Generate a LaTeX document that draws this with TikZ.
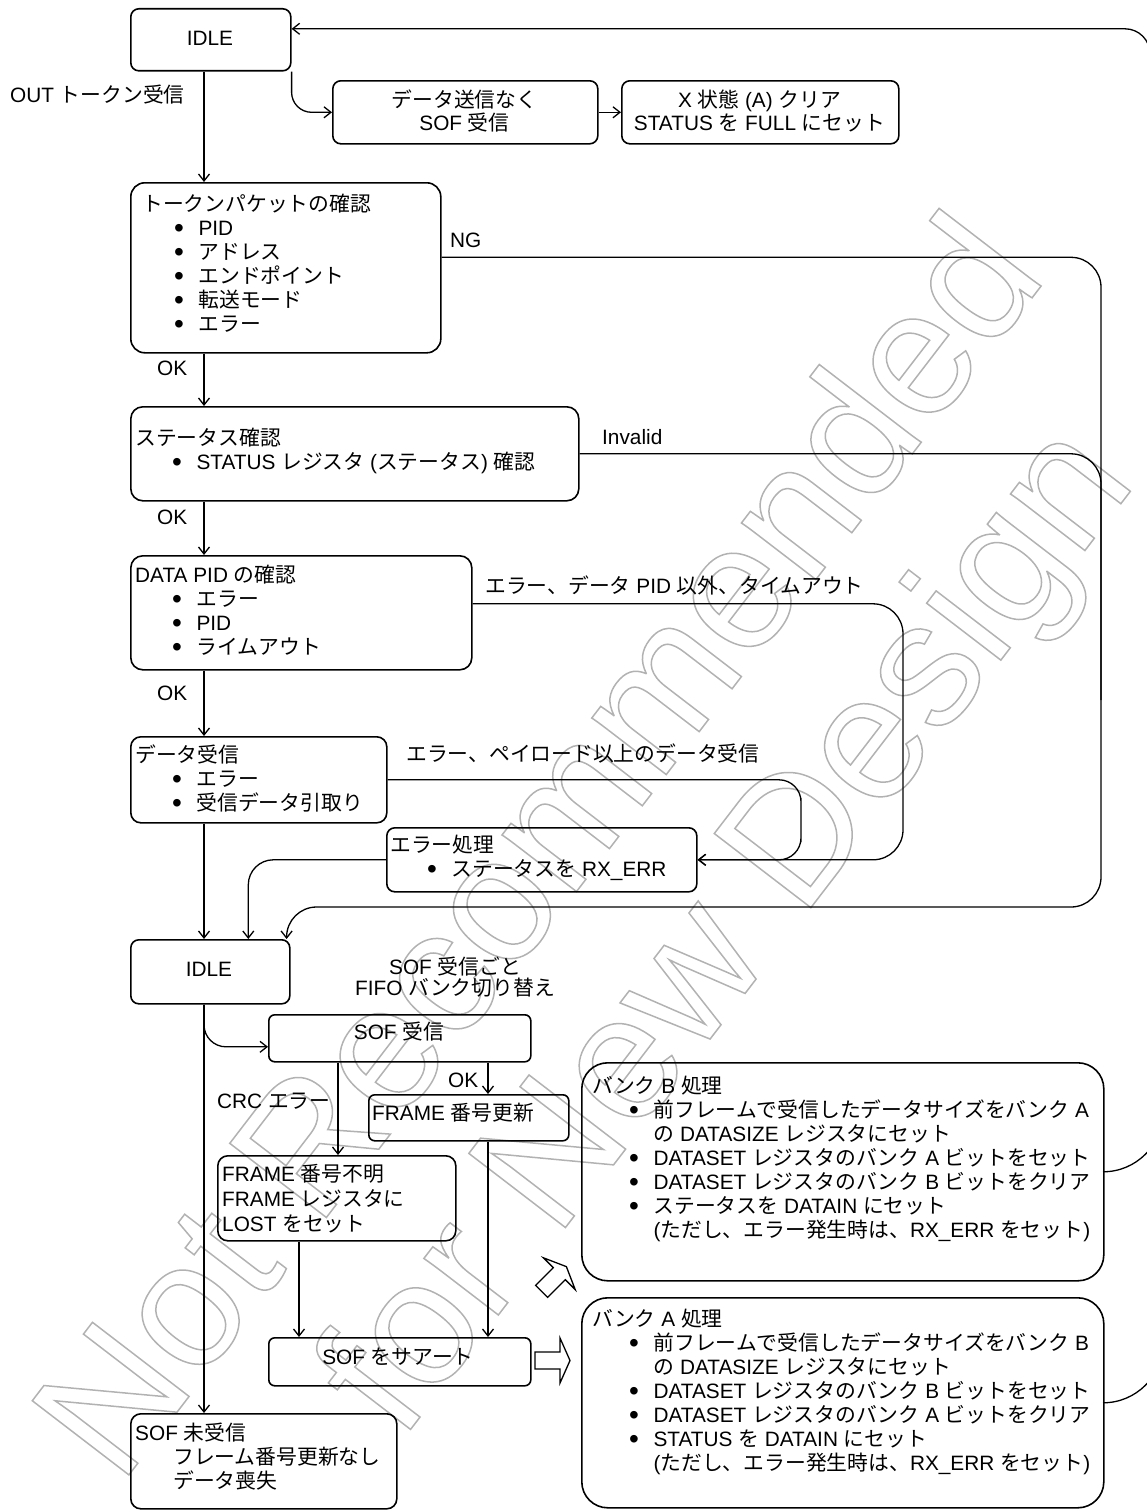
\documentclass[tikz,border=0pt]{standalone}
\usepackage{fontspec}
\setmainfont{Liberation Sans}
\newfontfamily\jpfont{Noto Sans CJK JP}
\usetikzlibrary{arrows.meta}
\definecolor{wmGray}{gray}{0.7}

% Japanese characters switch to the CJK family automatically
\XeTeXinterchartokenstate=1
\newXeTeXintercharclass\jpcls
\newcount\jpc
\jpc="3000 \loop\XeTeXcharclass\jpc=\jpcls \advance\jpc by 1 \ifnum\jpc<"3100 \repeat
\jpc="4E00 \loop\XeTeXcharclass\jpc=\jpcls \advance\jpc by 1 \ifnum\jpc<"A000 \repeat
\jpc="FF00 \loop\XeTeXcharclass\jpc=\jpcls \advance\jpc by 1 \ifnum\jpc<"FFF0 \repeat
\XeTeXinterchartoks 0 \jpcls = {\begingroup\jpfont}
\XeTeXinterchartoks 4095 \jpcls = {\begingroup\jpfont}
\XeTeXinterchartoks \jpcls 0 = {\endgroup}
\XeTeXinterchartoks \jpcls 4095 = {\endgroup}

\newcommand\diagfont{\fontsize{20.8}{24}\selectfont}
\newlength\bulind \setlength\bulind{38pt}
\newcommand\llines[2][24pt]{\vtop{\baselineskip=#1\relax\let\\\cr\halign{##\hfil\cr#2\crcr}}}
\newcommand\clines[2][24pt]{\vtop{\baselineskip=#1\relax\let\\\cr\halign{\hfil##\hfil\cr#2\crcr}}}
\newcommand\bigdot{\makebox[23.3pt][l]{\hspace{-1.2pt}\raisebox{-2.2pt}{\fontsize{28}{24}\selectfont\textbullet}}}
\newcommand\bitem[1]{\hspace*{\bulind}\bigdot#1}
\newcommand\contline[1]{\hspace*{\bulind}\hspace*{23.3pt}#1}
\newcommand\subline[1]{\hspace*{\bulind}#1}
\newcommand\wmark[1]{\special{pdf:literal direct 1 Tr 1.5 w}#1\special{pdf:literal direct 0 Tr}}

\begin{document}
\begin{tikzpicture}[x=1pt,y=-1pt,font=\diagfont,
    box/.style={draw,line width=1.6pt,rounded corners=#1,anchor=north west,inner sep=0pt},
    box/.default=8pt,
    txt/.style={anchor=base west,inner sep=0pt},
    ctr/.style={anchor=base,inner sep=0pt},
    flow/.style={line width=1.3pt,-{Straight Barb[length=7pt,width=11pt]}},
    link/.style={line width=1.3pt},
    wm/.style={rotate=52.5,text=wmGray,font=\fontsize{177}{177}\selectfont},
    fatarrow/.pic={\draw[line width=1.3pt] (-17.5,-8.5) -- (7.5,-8.5) -- (7.5,-22.5) -- (17.5,0)
        -- (7.5,22.5) -- (7.5,8.5) -- (-17.5,8.5) -- cycle;}]
\useasboundingbox (0,0) rectangle (1147,1512);

% watermark
\node[wm] (wmA) at (534,843) {\wmark{Not Recommended}};
\node[wm] (wmB) at (733,934) {\wmark{for New Design}};

% boxes
\node[box,minimum width=160,minimum height=62] (idleA) at (130,8) {};
\node[box,minimum width=265,minimum height=63] (nosof) at (332,80) {};
\node[box,minimum width=277,minimum height=63] (xclr) at (621,80) {};
\node[box=14pt,minimum width=310,minimum height=170] (tok) at (130,182) {};
\node[box=12pt,minimum width=448,minimum height=94] (stat) at (130,406) {};
\node[box=12pt,minimum width=341,minimum height=114] (pid) at (130,555) {};
\node[box=10pt,minimum width=256,minimum height=86] (rcv) at (130,736) {};
\node[box,minimum width=310,minimum height=64] (err) at (386,827) {};
\node[box,minimum width=159,minimum height=64] (idleB) at (130,939) {};
\node[box=6pt,minimum width=262,minimum height=47] (sofrx) at (268,1014) {};
\node[box=6pt,minimum width=200,minimum height=46] (frup) at (368,1094) {};
\node[box=10pt,minimum width=238,minimum height=85] (frlost) at (217,1155) {};
\node[box=6pt,minimum width=262,minimum height=48] (assert) at (268,1337) {};
\node[box=10pt,minimum width=266,minimum height=95] (nosofB) at (130,1413) {};
\node[box=26pt,minimum width=522,minimum height=218] (bankB) at (581,1062) {};
\node[box=26pt,minimum width=522,minimum height=210] (bankA) at (581,1297) {};

% texts
\node[ctr] (idleAt) at (210,46) {IDLE};
\node[ctr] (nosoft) at (464.5,107) {\clines[23pt]{データ送信なく\\SOF 受信}};
\node[ctr] (xclrt) at (759.5,107) {\clines[23pt]{X 状態 (A) クリア\\STATUS を FULL にセット}};
\node[txt] (tokt) at (142,211) {\setlength\bulind{33pt}\llines{トークンパケットの確認\\
    \bitem{PID}\\\bitem{アドレス}\\\bitem{エンドポイント}\\\bitem{転送モード}\\\bitem{エラー}}};
\node[txt] (statt) at (135,445) {\llines{ステータス確認\\\bitem{STATUS レジスタ (ステータス) 確認}}};
\node[txt] (pidt) at (135,582) {\llines{DATA PID の確認\\\bitem{エラー}\\\bitem{PID}\\\bitem{ライムアウト}}};
\node[txt] (rcvt) at (135,762) {\llines{データ受信\\\bitem{エラー}\\\bitem{受信データ引取り}}};
\node[txt] (errt) at (390,852) {\llines{エラー処理\\\bitem{ステータスを RX\_ERR}}};
\node[ctr] (idleBt) at (209,976) {IDLE};
\node[ctr] (sofrxt) at (399,1039) {SOF 受信};
\node[txt] (frupt) at (372,1120) {FRAME 番号更新};
\node[txt] (frlostt) at (222,1181) {\llines[25pt]{FRAME 番号不明\\FRAME レジスタに\\LOST をセット}};
\node[ctr] (assertt) at (398,1364) {SOF をサアート};
\node[txt] (nosofBt) at (135,1440) {\llines{SOF 未受信\\\subline{フレーム番号更新なし}\\\subline{データ喪失}}};
\node[txt] (bankBt) at (592,1093) {\llines{バンク B 処理\\
    \bitem{前フレームで受信したデータサイズをバンク A}\\
    \contline{の DATASIZE レジスタにセット}\\
    \bitem{DATASET レジスタのバンク A ビットをセット}\\
    \bitem{DATASET レジスタのバンク B ビットをクリア}\\
    \bitem{ステータスを DATAIN にセット}\\
    \contline{(ただし、エラー発生時は、RX\_ERR をセット)}}};
\node[txt] (bankAt) at (592,1326) {\llines{バンク A 処理\\
    \bitem{前フレームで受信したデータサイズをバンク B}\\
    \contline{の DATASIZE レジスタにセット}\\
    \bitem{DATASET レジスタのバンク B ビットをセット}\\
    \bitem{DATASET レジスタのバンク A ビットをクリア}\\
    \bitem{STATUS を DATAIN にセット}\\
    \contline{(ただし、エラー発生時は、RX\_ERR をセット)}}};

% labels
\node[txt] (outlbl) at (10,102) {OUT トークン受信};
\node[txt] (nglbl) at (450,247) {NG};
\node[txt] (ok1) at (157,375.5) {OK};
\node[txt] (invlbl) at (602,444.5) {Invalid};
\node[txt] (ok2) at (157,524.5) {OK};
\node[txt] (pidlbl) at (485,593) {エラー、データ PID 以外、タイムアウト};
\node[txt] (ok3) at (157,700.5) {OK};
\node[txt] (rcvlbl) at (406,761) {エラー、ペイロード以上のデータ受信};
\node[ctr] (banklbl) at (455,974) {\clines[21.5pt]{SOF 受信ごと\\FIFO バンク切り替え}};
\node[txt] (ok4) at (448,1087.5) {OK};
\node[txt] (crclbl) at (217,1108) {CRC エラー};

% block arrows
\pic (sofArr) at (552.5,1360.5) {fatarrow};
\pic[rotate=45] (bankArr) at (554,1279) {fatarrow};

% lanes and bends
\coordinate (trunk) at (204,0);
\coordinate (crcx) at (338,0);
\coordinate (lostx) at (299,0);
\coordinate (okx) at (488,0);
\coordinate (busR) at (1101,907);
\coordinate (busM) at (1101,700);
\coordinate (pidR) at (903,700);
\coordinate (rcvR) at (801,820);
\coordinate (rtop) at (1150,80);
\coordinate (bexB) at (1163,1000);
\coordinate (bexA) at (1163,1250);

% connectors
\draw[flow] (idleA.south -| trunk) -- (tok.north -| trunk);
\draw[flow,rounded corners=20] (idleA.south east) |- (nosof.west);
\draw[flow] (nosof.east) -- (xclr.west);
\draw[flow,rounded corners=25] (rtop) |- ([yshift=11pt]idleA.east);
\draw[flow] (tok.south -| trunk) -- (stat.north -| trunk);
\draw[flow] (stat.south -| trunk) -- (pid.north -| trunk);
\draw[flow] (pid.south -| trunk) -- (rcv.north -| trunk);
\draw[flow] (rcv.south -| trunk) -- (idleB.north -| trunk);
\draw[flow,rounded corners=30] ([yshift=10.5pt]tok.east) -| (busR) -| ([xshift=-4pt]idleB.north east);
\draw[link,rounded corners=30] (stat.east) -| (busM);
\draw[flow,rounded corners=30] ([yshift=9pt]pid.east) -| (pidR) |- (err.east);
\draw[flow,rounded corners=22] (rcv.east) -| (rcvR) |- (err.east);
\draw[flow,rounded corners=25] (err.west) -| ([xshift=38pt]idleB.north);
\draw[flow] (idleB.south -| trunk) -- (nosofB.north -| trunk);
\draw[flow,rounded corners=22] (idleB.south -| trunk) |- ([yshift=-8.5pt]sofrx.west);
\draw[flow] (sofrx.south -| crcx) -- (frlost.north -| crcx);
\draw[flow] (sofrx.south -| okx) -- (frup.north -| okx);
\draw[flow] (frup.south -| okx) -- (assert.north -| okx);
\draw[flow] (frlost.south -| lostx) -- (assert.north -| lostx);
\draw[link,rounded corners=60] (bankB.east) -| (bexB);
\draw[link,rounded corners=60] (bankA.east) -| (bexA);
\end{tikzpicture}
\end{document}
